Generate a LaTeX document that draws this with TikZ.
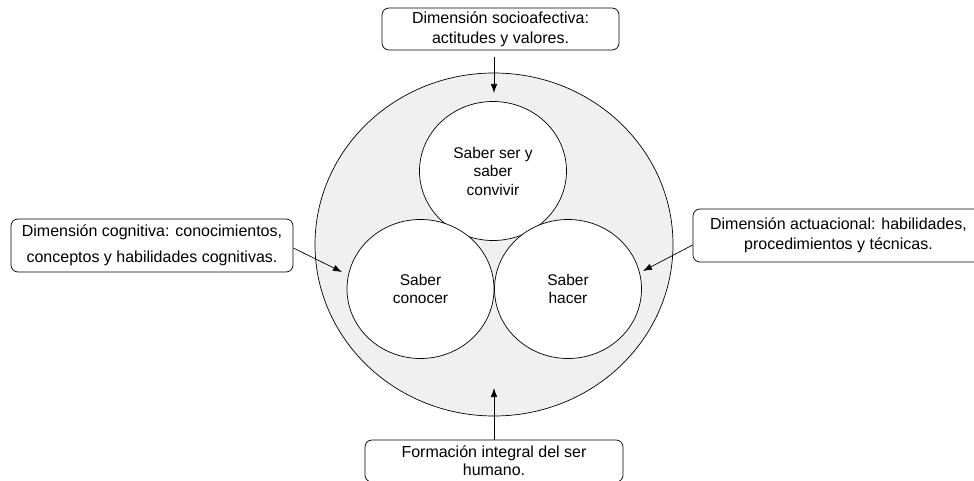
\documentclass[tikz,border=0pt]{standalone}
\usepackage{fontspec}
\setmainfont{Liberation Sans}
\usetikzlibrary{arrows.meta,positioning,shapes.geometric}

\tikzset{
  dimbox/.style={draw,rounded corners=7bp,align=center,inner sep=0pt,font=\fontsize{16bp}{20bp}\selectfont},
  saber/.style={draw,ellipse,fill=white,inner sep=0pt,minimum width=147bp,minimum height=139bp,align=center,font=\fontsize{15.5bp}{18.5bp}\selectfont},
  conn/.style={-{Latex[length=9bp,width=6.5bp]}}
}

\begin{document}
\begin{tikzpicture}[x=1bp,y=-1bp,line width=0.7bp]
    \useasboundingbox (0,0) rectangle (974,481);

    \node[ellipse,draw,fill=black!6,minimum width=358bp,minimum height=343bp] (whole) at (494,244.5) {};

    \node[saber] (ser) at (493,171) {Saber ser y\\saber\\convivir};
    \node[saber] (conocer) at (420.5,289) {Saber\\conocer};
    \node[saber] (hacer) at (568,289) {Saber\\hacer};

    \node[dimbox,minimum width=237bp,minimum height=42bp] (socio) at (500.5,29) {Dimensión socioafectiva:\\actitudes y valores.};
    \node[dimbox,minimum width=282bp,minimum height=53bp] (cogn) at (152,245.5) {Dimensión cognitiva: conocimientos,\\[6bp]conceptos y habilidades cognitivas.};
    \node[dimbox,minimum width=291bp,minimum height=53bp] (actua) at (838.5,235.5) {Dimensión actuacional: habilidades,\\procedimientos y técnicas.};
    \node[dimbox,minimum width=258bp,minimum height=42bp,font=\fontsize{16bp}{18bp}\selectfont] (form) at (494,461) {Formación integral del ser\\humano.};

    % arrow ends inside the big circle
    \coordinate (socioend) at (494,93);
    \coordinate (cognend) at (342,272);
    \coordinate (actuaend) at (643,271);
    \coordinate (formend) at (494,388);

    \draw[conn,shorten <=7bp] (socio.south -| socioend) -- (socioend);
    \draw[conn] ([yshift=-2.5bp]cogn.east) -- (cognend);
    \draw[conn] ([yshift=-9.5bp]actua.west) -- (actuaend);
    \draw[conn] (form.north) -- (formend);
\end{tikzpicture}
\end{document}
